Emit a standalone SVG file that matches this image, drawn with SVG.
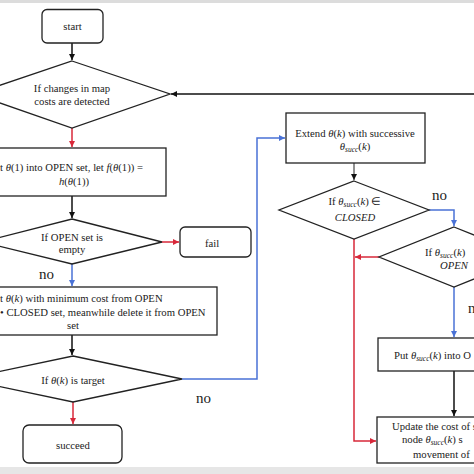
<svg xmlns="http://www.w3.org/2000/svg" width="474" height="474" viewBox="0 0 474 474">
<defs>
<style>
.box{fill:#fff;stroke:#222;stroke-width:1.3}
text{font-family:'Liberation Serif',serif;font-size:10.7px;fill:#222}
.c{text-anchor:middle}
.m{font-style:italic}
.s{font-size:7.5px;font-style:italic}
.no{font-size:15px}
.k{stroke:#111;stroke-width:1.5;fill:none}
.kt{stroke:#222;stroke-width:1;fill:none}
.r{stroke:#d8283a;stroke-width:1.5;fill:none}
.b{stroke:#4a72d6;stroke-width:1.5;fill:none}
</style>
<marker id="ak" markerUnits="userSpaceOnUse" markerWidth="7" markerHeight="7" refX="6" refY="3" orient="auto"><path d="M0,0 L6,3 L0,6 z" fill="#111"/></marker>
<marker id="ar" markerUnits="userSpaceOnUse" markerWidth="7" markerHeight="7" refX="6" refY="3" orient="auto"><path d="M0,0 L6,3 L0,6 z" fill="#d8283a"/></marker>
<marker id="ab" markerUnits="userSpaceOnUse" markerWidth="7" markerHeight="7" refX="6" refY="3" orient="auto"><path d="M0,0 L6,3 L0,6 z" fill="#4a72d6"/></marker>
</defs>
<rect x="0" y="0" width="474" height="474" fill="#fff"/>
<rect x="0" y="0" width="474" height="3" fill="#dcdcdc"/>
<rect x="0" y="467" width="474" height="7" fill="#e6e6e6"/>

<g id="connectors">
<path class="k" d="M72,43 V60" marker-end="url(#ak)"/>
<path class="k" d="M474,94 H171" marker-end="url(#ak)"/>
<path class="r" d="M72,128 V147" marker-end="url(#ar)"/>
<path class="k" d="M72,196 V218" marker-end="url(#ak)"/>
<path class="r" d="M162,242 H179" marker-end="url(#ar)"/>
<path class="b" d="M72,264 V286" marker-end="url(#ab)"/>
<path class="k" d="M72,335 V355" marker-end="url(#ak)"/>
<path class="r" d="M73,402 V424" marker-end="url(#ar)"/>
<path class="b" d="M182,379 H257 V138 H285" marker-end="url(#ab)"/>
<path class="kt" d="M354,163 V180" marker-end="url(#ak)"/>
<path class="b" d="M429,210 H454 V226" marker-end="url(#ab)"/>
<path class="r" d="M354,239 V441 H376" marker-end="url(#ar)"/>
<path class="r" d="M379,257 H355" marker-end="url(#ar)"/>
<path class="b" d="M454,287 V337" marker-end="url(#ab)"/>
<path class="k" d="M454,371 V416" marker-end="url(#ak)"/>
</g>

<g id="start">
<rect class="box" x="42" y="9.5" width="61" height="33.5" rx="5"/>
<text class="c" x="72.5" y="30">start</text>
</g>

<g id="changes">
<polygon class="box" points="72,61 170,94 72,128 -26,94"/>
<text class="c" x="72" y="92">If changes in  map</text>
<text class="c" x="72" y="105">costs are detected</text>
</g>

<g id="putopen">
<rect class="box" x="-20" y="148" width="186" height="48"/>
<text x="0" y="171">t <tspan class="m">θ</tspan>(1) into OPEN set, let <tspan class="m">f</tspan>(<tspan class="m">θ</tspan>(1)) =</text>
<text class="c" x="74" y="185"><tspan class="m">h</tspan>(<tspan class="m">θ</tspan>(1))</text>
</g>

<g id="openempty">
<polygon class="box" points="72,219 162,242 72,264 -18,242"/>
<text class="c" x="72" y="241">If OPEN set is</text>
<text class="c" x="72" y="253">empty</text>
</g>

<g id="fail">
<rect class="box" x="180" y="227" width="71" height="30" rx="5"/>
<text class="c" x="212" y="247">fail</text>
</g>

<text class="no" x="39" y="279">no</text>

<g id="takemin">
<rect class="box" x="-20" y="287" width="237" height="48"/>
<text x="0" y="302">t <tspan class="m">θ</tspan>(<tspan class="m">k</tspan>) with minimum cost from OPEN</text>
<text x="0" y="316">• CLOSED set, meanwhile delete it from OPEN</text>
<text class="c" x="73" y="329">set</text>
</g>

<g id="target">
<polygon class="box" points="73,356 182,379 73,402 -36,379"/>
<text class="c" x="73" y="384">If <tspan class="m">θ</tspan>(<tspan class="m">k</tspan>) is target</text>
</g>

<text class="no" x="196" y="403">no</text>

<g id="succeed">
<rect class="box" x="23" y="425" width="99" height="38" rx="6"/>
<text class="c" x="73" y="449">succeed</text>
</g>

<g id="extend">
<rect class="box" x="286" y="113" width="139" height="50"/>
<text class="c" x="355" y="137">Extend <tspan class="m">θ</tspan>(<tspan class="m">k</tspan>) with successive</text>
<text class="c" x="355" y="150"><tspan class="m">θ</tspan><tspan class="s" dy="2">succ</tspan><tspan dy="-2">(</tspan><tspan class="m">k</tspan>)</text>
</g>

<g id="inclosed">
<polygon class="box" points="354,181 429,210 354,239 279,210"/>
<text class="c" x="355" y="205">If <tspan class="m">θ</tspan><tspan class="s" dy="2">succ</tspan><tspan dy="-2">(</tspan><tspan class="m">k</tspan>) ∈</text>
<text class="c m" x="355" y="221">CLOSED</text>
</g>

<text class="no" x="432" y="200">no</text>

<g id="inopen">
<polygon class="box" points="454,227 529,257 454,287 379,257"/>
<text x="425" y="256">If <tspan class="m">θ</tspan><tspan class="s" dy="2">succ</tspan><tspan dy="-2">(</tspan><tspan class="m">k</tspan>)</text>
<text class="c m" x="454" y="269">OPEN</text>
</g>

<text class="no" x="468" y="313">n</text>

<g id="putsucc">
<rect class="box" x="378" y="338" width="160" height="33"/>
<text x="394" y="359">Put <tspan class="m">θ</tspan><tspan class="s" dy="2">succ</tspan><tspan dy="-2">(</tspan><tspan class="m">k</tspan>) into O</text>
</g>

<g id="update">
<rect class="box" x="377" y="417" width="160" height="46"/>
<text x="392" y="430">Update the cost of s</text>
<text x="402" y="443">node  <tspan class="m">θ</tspan><tspan class="s" dy="2">succ</tspan><tspan dy="-2">(</tspan><tspan class="m">k</tspan>) s</text>
<text x="413" y="458">movement of</text>
</g>
</svg>
